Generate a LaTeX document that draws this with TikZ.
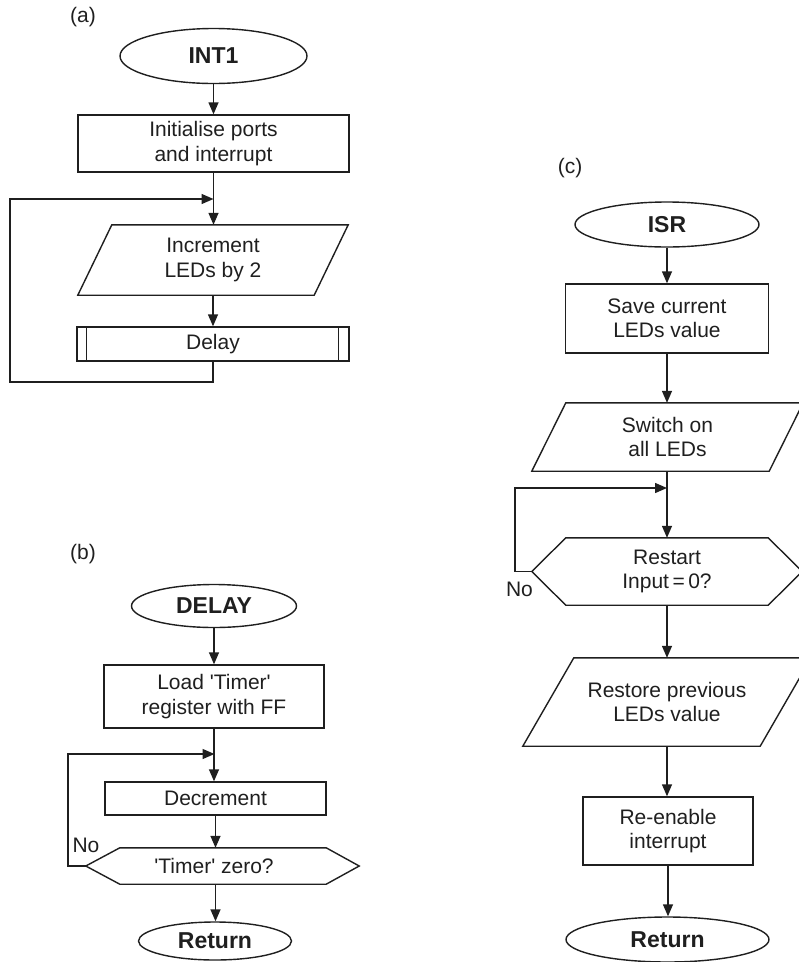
\documentclass[tikz,border=0pt]{standalone}
\usepackage{fontspec}
\setmainfont{Liberation Sans}
\usetikzlibrary{arrows.meta,calc,shapes.geometric}
\begin{document}
\begin{tikzpicture}[
  x=1pt,y=1pt,
  line/.style={line width=1.4pt, draw=black!88},
  arr/.style={line, -{Triangle[length=12pt,width=10pt]}},
  txt/.style={font=\fontsize{21}{24.5}\selectfont, align=center, inner sep=0pt, text=black!88},
  term/.style={ellipse, line, font=\bfseries\fontsize{23}{26}\selectfont, inner sep=0pt, text=black!88},
  proc/.style={rectangle, line, txt},
  shapebox/.style={txt, draw=none},
]
\useasboundingbox (0,0) rectangle (799,-962);
\clip (0,0) rectangle (799,-962);

% ---------------- (a) ----------------
\node[txt] (la) at (83,-17) {(a)};
\node[term, minimum width=187, minimum height=55] (int1) at (213.5,-56) {INT1};
\node[proc, minimum width=271, minimum height=57] (init) at (213.5,-143.5) {Initialise ports\\and interrupt};
\node[shapebox, minimum width=270, minimum height=70] (inc) at (213,-260) {Increment\\LEDs by 2};
\draw[line] ($(inc.north west)+(34,0)$) -- (inc.north east) -- ($(inc.south east)+(-34,0)$) -- (inc.south west) -- cycle;
\node[proc, minimum width=272, minimum height=34] (delay) at (213,-344) {Delay};
\draw[line] ($(delay.north west)+(10,0)$) -- ($(delay.south west)+(10,0)$);
\draw[line] ($(delay.north east)+(-11,0)$) -- ($(delay.south east)+(-11,0)$);

\draw[arr] (int1.south) -- (int1.south |- init.north);
\draw[arr] (init.south) -- (init.south |- inc.north);
\draw[arr] (inc.south) -- (inc.south |- delay.north);
\coordinate (ja) at (213.5,-199);
\coordinate (lpa) at (10,-382);
\draw[arr] (delay.south) |- (lpa) |- (ja);

% ---------------- (b) ----------------
\node[txt] (lb) at (83,-554) {(b)};
\node[term, minimum width=165, minimum height=43] (delayS) at (214,-606) {DELAY};
\node[proc, minimum width=220, minimum height=63] (load) at (214,-696.5) {Load \textquotesingle Timer\textquotesingle\\register with FF};
\node[proc, minimum width=221, minimum height=33] (dec) at (215.5,-798.5) {Decrement};
\node[shapebox, minimum width=256, minimum height=36] (tz) at (214,-866) {\textquotesingle Timer\textquotesingle\ zero?};
\draw[line] (tz.west) -- ($(tz.north west)+(34,0)$) -- ($(tz.north east)+(-16,0)$) -- ($(tz.east)+(17,0)$)
  -- ($(tz.south east)+(-16,0)$) -- ($(tz.south west)+(34,0)$) -- cycle;
\node[term, minimum width=153, minimum height=38] (ret1) at (215,-941) {Return};
\node[txt] (no1) at (86,-845) {No};

\draw[arr] (delayS.south) -- (delayS.south |- load.north);
\draw[arr] (load.south) -- (load.south |- dec.north);
\draw[arr] (dec.south) -- (dec.south |- tz.north);
\draw[arr] (tz.south -| dec.south) -- (dec.south |- ret1.north);
\coordinate (jb) at (214.5,-754);
\coordinate (lpb) at (68,-866);
\draw[arr] (tz.west) -- (lpb) |- (jb);

% ---------------- (c) ----------------
\node[txt] (lc) at (570,-168) {(c)};
\node[term, minimum width=184, minimum height=45] (isr) at (667,-224.5) {ISR};
\node[proc, minimum width=203, minimum height=69] (save) at (667,-318.5) {Save current\\LEDs value};
\node[shapebox, minimum width=271, minimum height=68] (sw) at (667.5,-437) {Switch on\\all LEDs};
\draw[line] ($(sw.north west)+(34,0)$) -- (sw.north east) -- ($(sw.south east)+(-34,0)$) -- (sw.south west) -- cycle;
\node[shapebox, minimum width=270, minimum height=67] (rs) at (667,-571.5) {Restart\\Input\,=\,0?};
\draw[line] (rs.west) -- ($(rs.north west)+(34,0)$) -- ($(rs.north east)+(-34,0)$) -- (rs.east)
  -- ($(rs.south east)+(-34,0)$) -- ($(rs.south west)+(34,0)$) -- cycle;
\node[txt] (no2) at (519.5,-589) {No};
\node[shapebox, minimum width=288, minimum height=88] (rp) at (667,-702) {Restore previous\\LEDs value};
\draw[line] ($(rp.north west)+(51,0)$) -- (rp.north east) -- ($(rp.south east)+(-51,0)$) -- (rp.south west) -- cycle;
\node[proc, minimum width=170, minimum height=68] (re) at (668,-831) {Re-enable\\interrupt};
\node[term, minimum width=203, minimum height=45] (ret2) at (667.5,-939.5) {Return};

\draw[arr] (isr.south) -- (isr.south |- save.north);
\draw[arr] (save.south) -- (save.south |- sw.north);
\draw[arr] (sw.south -| isr.south) -- (isr.south |- rs.north);
\draw[arr] (rs.south) -- (rs.south |- rp.north);
\draw[arr] (rp.south) -- (rp.south |- re.north);
\draw[arr] (re.south) -- (re.south |- ret2.north);
\coordinate (jc) at (667,-488);
\coordinate (lpc) at (515,-571.5);
\draw[arr] (rs.west) -- (lpc) |- (jc);
\end{tikzpicture}
\end{document}
